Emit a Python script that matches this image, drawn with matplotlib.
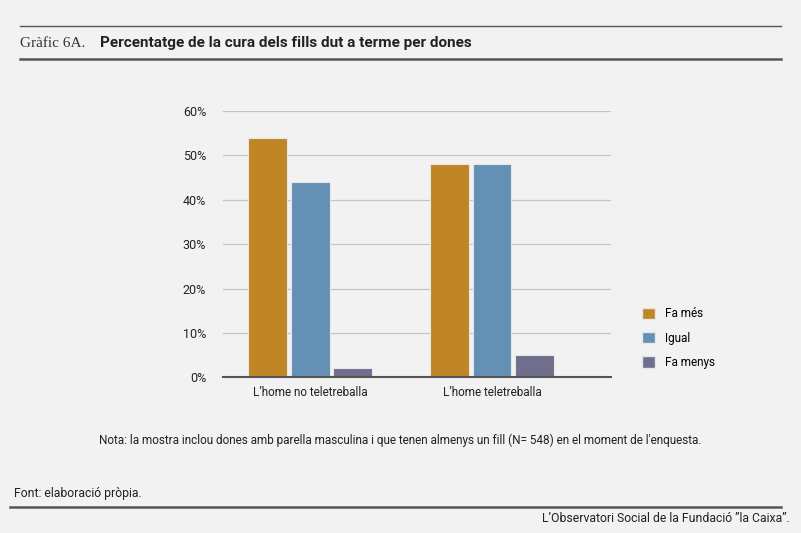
import numpy as np
import matplotlib
matplotlib.use('Agg')
import matplotlib.pyplot as plt
from matplotlib.lines import Line2D
from matplotlib.patches import Patch

categories = ["L\u2019home no teletreballa", "L\u2019home teletreballa"]
series = ["Fa més", "Igual", "Fa menys"]
fa_mes = [54, 48]
igual = [44, 48]
fa_menys = [2, 5]
yticks = [0, 10, 20, 30, 40, 50, 60]

colors = ['#C08626', '#6490B5', '#6F6E8D']
bg = '#F2F2F2'

plt.rcParams['font.family'] = ['Roboto', 'DejaVu Sans']

fig = plt.figure(figsize=(8.01, 5.33), dpi=100, facecolor=bg)
ax = fig.add_axes([0.278, 0.292, 0.485, 0.500], facecolor=bg)

x = np.arange(len(categories))
w = 0.213
step = 0.233
for i, (vals, c, name) in enumerate(zip([fa_mes, igual, fa_menys], colors, series)):
    ax.bar(x + (i - 1) * step, vals, width=w, color=c, edgecolor='#e6e6e6',
           linewidth=0.8, label=name, zorder=3)

ax.set_ylim(0, 60)
ax.set_xlim(-0.481, 1.655)
ax.set_yticks(yticks)
ax.set_yticklabels([f"{t}%" for t in yticks])
ax.set_xticks(x)
ax.set_xticklabels(categories)
ax.grid(axis='y', color='#c4c4c4', linewidth=0.9, zorder=0)
for s in ['top', 'right', 'left']:
    ax.spines[s].set_visible(False)
ax.spines['bottom'].set_color('#555555')
ax.spines['bottom'].set_linewidth(1.5)
ax.spines['bottom'].set_zorder(4)
ax.tick_params(axis='both', length=0, labelsize=8.5, colors='#222222')
ax.tick_params(axis='y', labelsize=9, pad=12)
ax.tick_params(axis='x', pad=6)

handles = [Patch(facecolor=c, edgecolor='#e6e6e6') for c in colors]
fig.legend(handles, series, loc='upper left', bbox_to_anchor=(0.795, 0.432),
           frameon=False, fontsize=8.5, handlelength=1.1, handleheight=1.1,
           labelspacing=0.95, handletextpad=0.85, borderaxespad=0)

# header
fig.add_artist(Line2D([20 / 801, 781 / 801], [1 - 26 / 533] * 2, color='#555555', linewidth=1.0))
fig.add_artist(Line2D([20 / 801, 781 / 801], [1 - 59 / 533] * 2, color='#555555', linewidth=1.8))
fig.text(20 / 801, 1 - 43 / 533, "Gràfic 6A.", family=['Liberation Serif'], fontsize=11,
         va='center', ha='left', color='#333333')
fig.text(100 / 801, 1 - 43 / 533, "Percentatge de la cura dels fills dut a terme per dones",
         fontsize=11, fontweight='bold', va='center', ha='left', color='#222222')

# note
fig.text(0.5, 1 - 440 / 533,
         "Nota: la mostra inclou dones amb parella masculina i que tenen almenys un fill (N= 548) en el moment de l'enquesta.",
         fontsize=8.5, ha='center', va='center', color='#222222')

# footer
fig.text(14 / 801, 1 - 494 / 533, "Font: elaboració pròpia.", fontsize=8.8,
         ha='left', va='center', color='#222222')
fig.add_artist(Line2D([10 / 801, 781 / 801], [1 - 507 / 533] * 2, color='#555555', linewidth=1.8))
fig.text(790 / 801, 1 - 519 / 533, "L\u2019Observatori Social de la Fundació \u201dla Caixa\u201d.",
         fontsize=8.8, ha='right', va='center', color='#222222')

fig.savefig('out.png', dpi=100, facecolor=bg)
